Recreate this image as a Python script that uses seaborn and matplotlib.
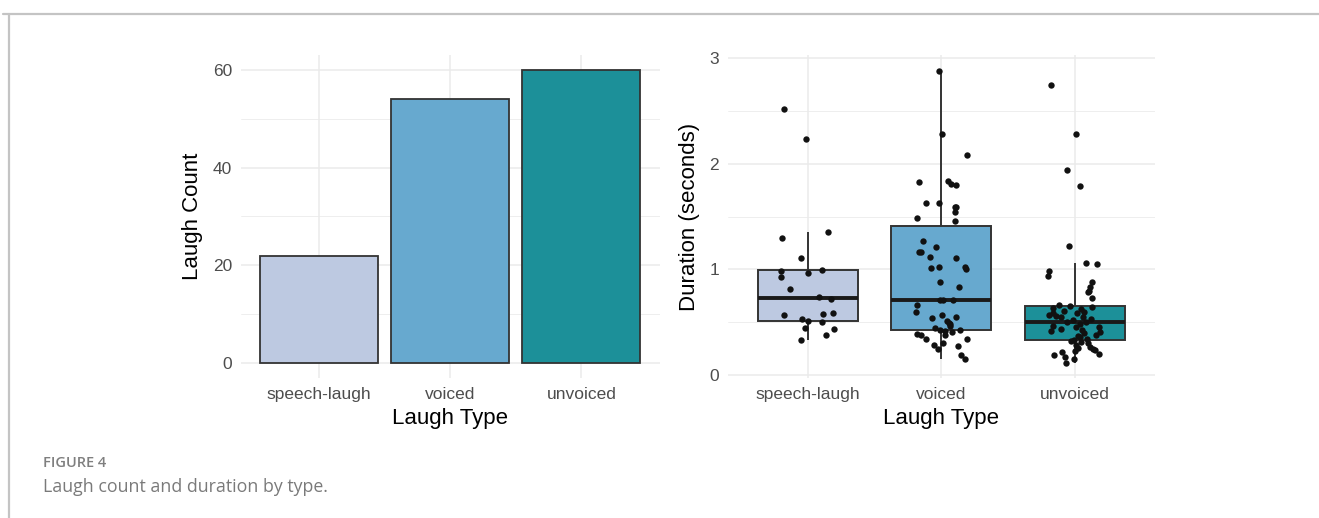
import numpy as np
import pandas as pd
import matplotlib
matplotlib.use("Agg")
import matplotlib.pyplot as plt
from matplotlib.lines import Line2D
from matplotlib.ticker import MultipleLocator
import seaborn as sns

# ---- data -------------------------------------------------------------
laugh_types = ["speech-laugh", "voiced", "unvoiced"]
laugh_counts = [22, 54, 60]
type_colors = ["#bdc9e1", "#67a9cf", "#1c9099"]

# durations (seconds) of each laugh, with the horizontal jitter used when plotting
dur_speech = [2.52, 2.23, 1.296, 1.35, 1.113, 0.984, 0.93, 0.962, 0.993, 0.814, 0.741,
              0.725, 0.574, 0.58, 0.584, 0.536, 0.511, 0.505, 0.442, 0.435, 0.378, 0.331]
jit_speech = [-0.174, -0.012, -0.189, 0.152, -0.049, -0.198, -0.196, 0.005, 0.107, -0.134, 0.085,
              0.175, -0.174, 0.115, 0.19, -0.045, 0.0, 0.11, -0.022, 0.194, 0.137, -0.049]

dur_voiced = [2.88, 2.28, 2.081, 1.838, 1.829, 1.804, 1.798, 1.63, 1.63, 1.592, 1.587,
              1.545, 1.485, 1.46, 1.268, 1.214, 1.17, 1.161, 1.12, 1.104, 1.015, 1.022,
              1.025, 1.0, 0.877, 0.835, 0.716, 0.716, 0.71, 0.662, 0.596, 0.565, 0.549,
              0.542, 0.511, 0.49, 0.48, 0.464, 0.451, 0.432, 0.426, 0.416, 0.41, 0.388,
              0.381, 0.378, 0.341, 0.338, 0.309, 0.284, 0.274, 0.252, 0.192, 0.154]
jit_voiced = [-0.015, 0.005, 0.196, 0.052, -0.167, 0.072, 0.107, -0.112, -0.02, 0.102, 0.112,
              0.102, -0.183, 0.102, -0.137, -0.037, -0.169, -0.152, -0.082, 0.112, -0.075, -0.015,
              0.179, 0.187, -0.012, 0.136, -0.007, 0.013, 0.087, -0.181, -0.188, 0.007, 0.112,
              -0.072, 0.045, 0.055, 0.062, 0.068, -0.05, 0.144, -0.007, 0.03, 0.08, -0.184,
              -0.149, 0.025, 0.194, -0.114, 0.01, -0.052, 0.122, -0.028, 0.147, 0.177]

dur_unvoiced = [2.741, 2.283, 1.939, 1.788, 1.223, 1.063, 1.053, 0.987, 0.939, 0.877, 0.835,
                0.801, 0.785, 0.726, 0.664,
                0.653, 0.645, 0.637, 0.624, 0.612, 0.599, 0.59, 0.584, 0.568, 0.56, 0.553,
                0.546, 0.533, 0.521, 0.508,
                0.5, 0.485, 0.47, 0.46, 0.452, 0.44, 0.425, 0.416, 0.41, 0.395, 0.385,
                0.375, 0.36, 0.345, 0.337,
                0.325, 0.315, 0.3, 0.284, 0.27, 0.262, 0.252, 0.24, 0.225, 0.215, 0.2,
                0.189, 0.173, 0.15, 0.116]
jit_unvoiced = [-0.176, 0.005, -0.062, 0.037, -0.042, 0.087, 0.169, -0.196, -0.2, 0.132, 0.117,
                0.105, 0.095, 0.13, -0.12,
                -0.035, 0.127, -0.165, 0.048, -0.08, 0.065, -0.16, 0.015, -0.19, -0.14, 0.06,
                -0.1, 0.12, -0.015, 0.085,
                -0.06, 0.035, -0.165, 0.18, 0.01, -0.1, 0.05, -0.18, 0.19, 0.07, 0.155,
                0.02, 0.04, 0.09, -0.005,
                -0.03, 0.045, 0.1, 0.005, 0.11, 0.02, 0.135, 0.15, 0.0, -0.094, 0.18,
                -0.159, -0.077, -0.005, -0.064]

caption_label = "FIGURE 4"
caption_text = "Laugh count and duration by type."

# ---- tidy tables ------------------------------------------------------
counts = pd.DataFrame({"type": laugh_types, "count": laugh_counts})
dur_lists = [dur_speech, dur_voiced, dur_unvoiced]
jit_lists = [jit_speech, jit_voiced, jit_unvoiced]
durations = pd.concat(
    [pd.DataFrame({"type": t, "pos": i, "duration": d, "jitter": j})
     for i, (t, d, j) in enumerate(zip(laugh_types, dur_lists, jit_lists))],
    ignore_index=True)
durations["type"] = pd.Categorical(durations["type"], categories=laugh_types, ordered=True)
durations["xj"] = durations["pos"] + durations["jitter"]
palette = dict(zip(laugh_types, type_colors))

# ---- style ------------------------------------------------------------
sns.set_theme(style="white")
plt.rcParams["font.family"] = ["Liberation Sans", "DejaVu Sans"]
GRID = "#ebebeb"
TICK = "#4d4d4d"
EDGE = "#333333"

fig = plt.figure(figsize=(13.19, 5.18), dpi=100)
W, H = 1319, 518
def axrect(x0, y0, x1, y1):
    return [x0 / W, 1 - y1 / H, (x1 - x0) / W, (y1 - y0) / H]

ax1 = fig.add_axes(axrect(240.5, 55.4, 660, 377.6))
ax2 = fig.add_axes(axrect(727.5, 55.4, 1155, 377.6))

def style_axes(ax, major, minor):
    ax.set_axisbelow(True)
    for s in ax.spines.values():
        s.set_visible(False)
    ax.yaxis.set_major_locator(MultipleLocator(major))
    ax.yaxis.set_minor_locator(MultipleLocator(minor))
    ax.grid(True, which="major", color=GRID, linewidth=1.1)
    ax.grid(True, which="minor", axis="y", color=GRID, linewidth=0.6)
    ax.tick_params(which="both", length=0)
    ax.tick_params(axis="y", labelsize=12.5, labelcolor=TICK, pad=6)
    ax.tick_params(axis="x", labelsize=12.5, labelcolor=TICK, pad=7)

# ---- left: counts -----------------------------------------------------
sns.barplot(data=counts, x="type", y="count", hue="type", order=laugh_types,
            palette=palette, saturation=1, width=0.9, edgecolor=EDGE, linewidth=1.3,
            legend=False, ax=ax1)
ax1.set_xlim(-0.6, 2.6)
ax1.set_ylim(-3, 63)
style_axes(ax1, 20, 10)
ax1.set_yticks([0, 20, 40, 60])
ax1.set_xlabel("Laugh Type", fontsize=16, color="black", labelpad=4)
ax1.set_ylabel("Laugh Count", fontsize=16, color="black", labelpad=7)

# ---- right: durations -------------------------------------------------
sns.boxplot(data=durations, x="type", y="duration", hue="type", order=laugh_types,
            palette=palette, saturation=1, width=0.75, linecolor=EDGE, linewidth=1.4,
            showfliers=False, showcaps=False,
            medianprops=dict(linewidth=2.8, color="#1a1a1a"),
            legend=False, ax=ax2)
sns.scatterplot(data=durations, x="xj", y="duration", color="#111111", s=21,
                linewidth=0, ax=ax2, zorder=5)
ax2.set_xlim(-0.6, 2.6)
ax2.set_ylim(-0.0225, 3.0245)
style_axes(ax2, 1, 0.5)
ax2.set_xticks(range(len(laugh_types)))
ax2.set_xticklabels(laugh_types)
ax2.set_yticks([0, 1, 2, 3])
ax2.set_xlabel("Laugh Type", fontsize=16, color="black", labelpad=4)
ax2.set_ylabel("Duration (seconds)", fontsize=16, color="black", labelpad=7)

# ---- frame and caption ------------------------------------------------
fig.add_artist(Line2D([3 / W, 1], [1 - 14 / H, 1 - 14 / H], transform=fig.transFigure,
                      color="#c4c4c4", linewidth=1.6))
fig.add_artist(Line2D([9 / W, 9 / W], [0, 1 - 14 / H], transform=fig.transFigure,
                      color="#c4c4c4", linewidth=1.6))
fig.text(43 / W, 1 - 463 / H, caption_label, family=["Open Sans", "DejaVu Sans"],
         fontsize=10.5, fontweight="semibold", color="#7f7f7f", va="center", ha="left")
fig.text(43 / W, 1 - 487 / H, caption_text, family=["Open Sans", "DejaVu Sans"],
         fontsize=12.8, color="#7a7a7a", va="center", ha="left")

fig.savefig("out.png", dpi=100, facecolor="white")
